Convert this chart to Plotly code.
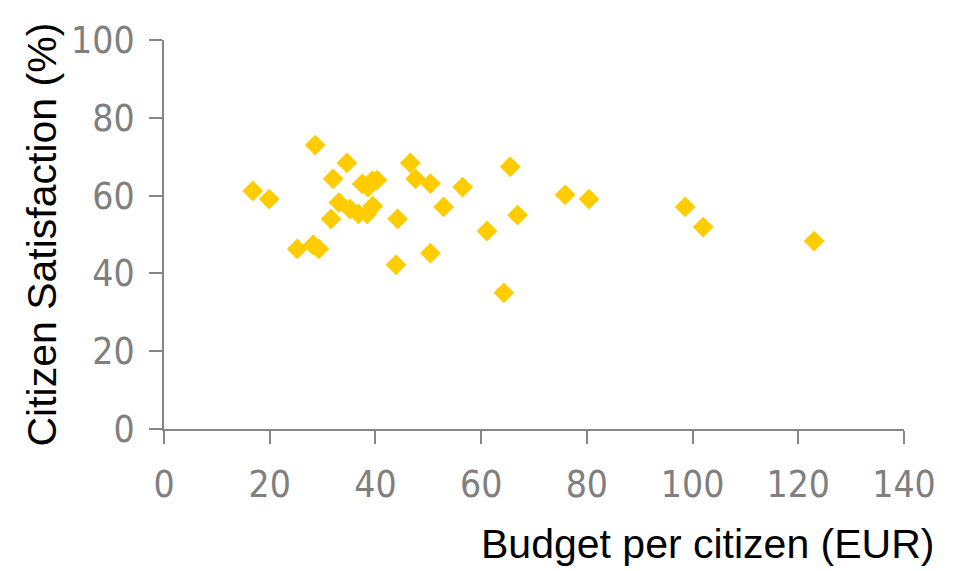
import plotly.graph_objects as go

budget = [16.8, 19.9, 25.2, 28.2, 29.3, 28.6, 34.6, 32.0, 31.6, 33.1, 35.2, 36.8, 38.4,
          37.5, 38.6, 39.4, 40.3, 39.5, 44.2, 43.9, 46.6, 47.6, 50.4, 50.4, 52.9, 56.5,
          61.1, 64.3, 65.5, 66.9, 75.9, 80.4, 98.6, 102.0, 123.0]
satisfaction = [61.2, 59.1, 46.3, 47.3, 46.3, 73.0, 68.4, 64.3, 54.0, 58.2, 56.5, 55.3, 55.3,
                63.0, 62.2, 63.8, 64.0, 57.3, 54.0, 42.2, 68.4, 64.3, 63.1, 45.2, 57.1, 62.2,
                50.9, 35.0, 67.4, 55.0, 60.2, 59.1, 57.1, 51.9, 48.3]
x_ticks = [0, 20, 40, 60, 80, 100, 120, 140]
y_ticks = [0, 20, 40, 60, 80, 100]

L, R, T, B = 164, 55, 40, 142
W, H = 959, 571
pw, ph = W - L - R, H - T - B

TICK_FONT = "Liberation Sans Narrow, Arial Narrow, DejaVu Sans Condensed, sans-serif"
TITLE_FONT = "Liberation Sans, Arial, sans-serif"

fig = go.Figure(go.Scatter(
    x=budget, y=satisfaction, mode="markers",
    marker=dict(symbol="diamond", size=16, color="#FFCC00", line=dict(width=0)),
))

axis_common = dict(
    showgrid=False, zeroline=False, showline=True, linecolor="#868686", linewidth=2,
    ticks="outside", ticklen=13, tickwidth=2, tickcolor="#868686",
    tickfont=dict(family=TICK_FONT, size=37, color="#7f7f7f"),
)
fig.update_xaxes(range=[0, 140], tickvals=x_ticks, ticklabelstandoff=9, **axis_common)
fig.update_yaxes(range=[0, 100], tickvals=y_ticks, ticklabelstandoff=7, **axis_common)

fig.add_annotation(
    text="Budget per citizen (EUR)", xref="paper", yref="paper",
    x=(936 - L) / pw, y=-(544 - (H - B)) / ph, xanchor="right", yanchor="middle",
    showarrow=False, font=dict(family=TITLE_FONT, size=41, color="#000000"),
)
fig.add_annotation(
    text="Citizen Satisfaction (%)", xref="paper", yref="paper",
    x=(41 - L) / pw, y=0.5, xanchor="center", yanchor="middle", textangle=-90,
    showarrow=False, font=dict(family=TITLE_FONT, size=41, color="#000000"),
)

fig.update_layout(
    width=W, height=H, margin=dict(l=L, r=R, t=T, b=B),
    paper_bgcolor="white", plot_bgcolor="white", showlegend=False,
)
fig.write_html("out.html")
